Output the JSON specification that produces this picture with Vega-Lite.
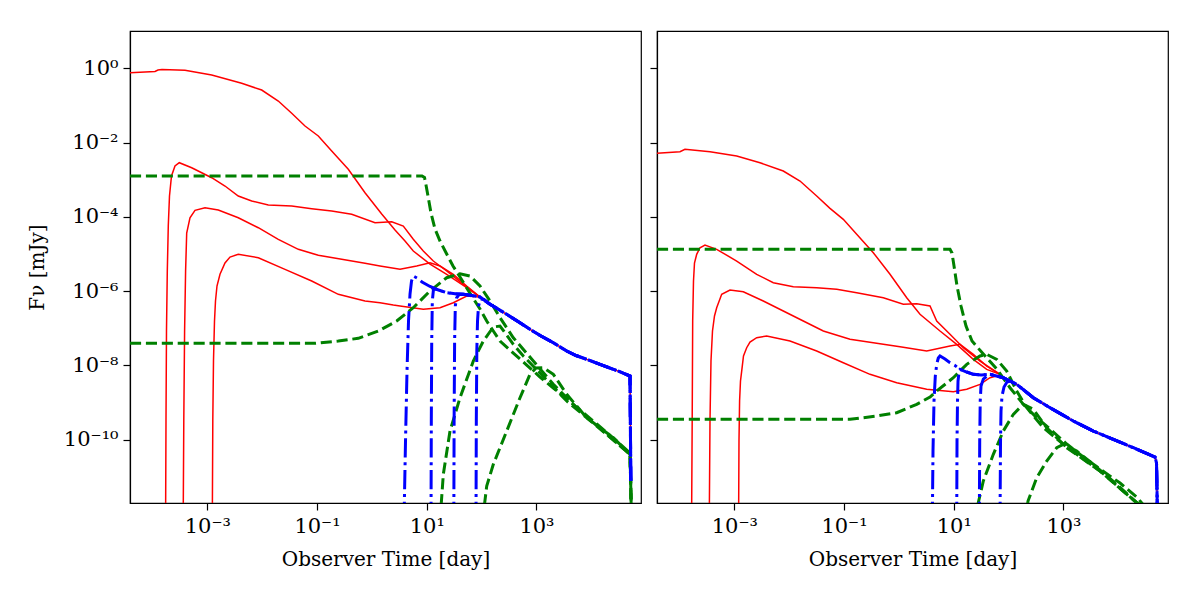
{
"$schema": "https://vega.github.io/schema/vega-lite/v6.json",
"background": "white",
"padding": {"left": 26, "top": 30, "right": 0, "bottom": 0},
"spacing": 6,
"config": {
  "font": "DejaVu Serif",
  "view": {"stroke": "#000", "strokeWidth": 1.2},
  "axis": {"grid": false, "domainColor": "#000", "domainWidth": 1.2, "tickColor": "#000", "tickWidth": 1.2, "tickSize": 7,
           "labelFont": "DejaVu Serif", "titleFont": "DejaVu Serif", "labelFontSize": 21, "titleFontSize": 20,
           "labelColor": "#000", "titleColor": "#000", "titleFontWeight": "normal", "labelFlush": false, "labelOverlap": false, "labelBound": false, "labelPadding": 5},
  "axisX": {"titlePadding": 13},
  "axisY": {"titlePadding": 16}
},
"datasets": {
"L": [
{"c":"r","s":1,"t":3.9e-5,"f":0.761},{"c":"r","s":1,"t":1.114e-4,"f":0.82},{"c":"r","s":1,"t":1.262e-4,"f":0.9},{"c":"r","s":1,"t":1.493e-4,"f":0.928},{"c":"r","s":1,"t":3.923e-4,"f":0.884},{"c":"r","s":1,"t":1.203e-3,"f":0.66},{"c":"r","s":1,"t":4.237e-3,"f":0.3946},{"c":"r","s":1,"t":9.81e-3,"f":0.2604},{"c":"r","s":1,"t":0.01969,"f":0.1317},{"c":"r","s":1,"t":0.03457,"f":0.06143},{"c":"r","s":1,"t":0.0604,"f":0.02795},{"c":"r","s":1,"t":0.1056,"f":0.01504},{"c":"r","s":1,"t":0.1853,"f":5.935e-3},{"c":"r","s":1,"t":0.3719,"f":1.909e-3},{"c":"r","s":1,"t":0.7497,"f":4.472e-4},{"c":"r","s":1,"t":1.511,"f":1.194e-4},{"c":"r","s":1,"t":2.641,"f":4.428e-5},{"c":"r","s":1,"t":4.018,"f":2.239e-5},{"c":"r","s":1,"t":5.69,"f":1.204e-5},{"c":"r","s":1,"t":11.48,"f":5.38e-6},{"c":"r","s":1,"t":23.13,"f":2.841e-6},{"c":"r","s":1,"t":53.56,"f":1.238e-6},{"c":"r","s":1,"t":93.6,"f":6.955e-7},
{"c":"r","s":2,"t":1.737e-4,"f":6.47e-13},{"c":"r","s":2,"t":1.767e-4,"f":3.19e-10},{"c":"r","s":2,"t":1.804e-4,"f":8.45e-8},{"c":"r","s":2,"t":1.866e-4,"f":3.485e-6},{"c":"r","s":2,"t":1.945e-4,"f":5.674e-5},{"c":"r","s":2,"t":2.046e-4,"f":3.644e-4},{"c":"r","s":2,"t":2.225e-4,"f":1.26e-3},{"c":"r","s":2,"t":2.577e-4,"f":2.341e-3},{"c":"r","s":2,"t":3.087e-4,"f":2.872e-3},{"c":"r","s":2,"t":5.195e-4,"f":2.106e-3},{"c":"r","s":2,"t":1.203e-3,"f":1.133e-3},{"c":"r","s":2,"t":2.102e-3,"f":6.775e-4},{"c":"r","s":2,"t":3.673e-3,"f":3.644e-4},{"c":"r","s":2,"t":6.447e-3,"f":2.674e-4},{"c":"r","s":2,"t":0.01294,"f":2.087e-4},{"c":"r","s":2,"t":0.03457,"f":1.961e-4},{"c":"r","s":2,"t":0.08002,"f":1.658e-4},{"c":"r","s":2,"t":0.1853,"f":1.438e-4},{"c":"r","s":2,"t":0.4289,"f":1.172e-4},{"c":"r","s":2,"t":1.141,"f":6.965e-5},{"c":"r","s":2,"t":2.299,"f":7.41e-5},{"c":"r","s":2,"t":3.742,"f":5.674e-5},{"c":"r","s":2,"t":5.69,"f":2.488e-5},{"c":"r","s":2,"t":8.66,"f":1.204e-5},{"c":"r","s":2,"t":13.18,"f":6.48e-6},{"c":"r","s":2,"t":23.13,"f":3.485e-6},{"c":"r","s":2,"t":46.45,"f":1.529e-6},{"c":"r","s":2,"t":93.6,"f":6.955e-7},
{"c":"r","s":3,"t":3.637e-4,"f":6.47e-13},{"c":"r","s":3,"t":3.729e-4,"f":3.19e-10},{"c":"r","s":3,"t":3.857e-4,"f":8.45e-8},{"c":"r","s":3,"t":4.022e-4,"f":3.485e-6},{"c":"r","s":3,"t":4.212e-4,"f":3.676e-5},{"c":"r","s":3,"t":4.836e-4,"f":9.49e-5},{"c":"r","s":3,"t":5.967e-4,"f":1.502e-4},{"c":"r","s":3,"t":9.08e-4,"f":1.765e-4},{"c":"r","s":3,"t":1.587e-3,"f":1.53e-4},{"c":"r","s":3,"t":3.673e-3,"f":9.49e-5},{"c":"r","s":3,"t":8.51e-3,"f":5.108e-5},{"c":"r","s":3,"t":0.01969,"f":2.488e-5},{"c":"r","s":3,"t":0.04559,"f":1.338e-5},{"c":"r","s":3,"t":0.1056,"f":9.23e-6},{"c":"r","s":3,"t":0.2819,"f":7.2e-6},{"c":"r","s":3,"t":0.7497,"f":5.62e-6},{"c":"r","s":3,"t":1.407,"f":4.751e-6},{"c":"r","s":3,"t":3.258,"f":3.873e-6},{"c":"r","s":3,"t":6.568,"f":4.751e-6},{"c":"r","s":3,"t":11.48,"f":5.832e-6},{"c":"r","s":3,"t":17.47,"f":4.751e-6},{"c":"r","s":3,"t":30.52,"f":2.841e-6},{"c":"r","s":3,"t":53.56,"f":1.375e-6},{"c":"r","s":3,"t":93.6,"f":6.955e-7},
{"c":"r","s":4,"t":1.234e-3,"f":6.47e-13},{"c":"r","s":4,"t":1.26e-3,"f":3.19e-10},{"c":"r","s":4,"t":1.297e-3,"f":1.315e-8},{"c":"r","s":4,"t":1.353e-3,"f":1.57e-7},{"c":"r","s":4,"t":1.411e-3,"f":5.427e-7},{"c":"r","s":4,"t":1.502e-3,"f":1.375e-6},{"c":"r","s":4,"t":1.704e-3,"f":2.841e-6},{"c":"r","s":4,"t":2.102e-3,"f":5.724e-6},{"c":"r","s":4,"t":2.594e-3,"f":8.3e-6},{"c":"r","s":4,"t":3.673e-3,"f":9.82e-6},{"c":"r","s":4,"t":8.51e-3,"f":7.95e-6},{"c":"r","s":4,"t":0.02609,"f":3.873e-6},{"c":"r","s":4,"t":0.08002,"f":1.875e-6},{"c":"r","s":4,"t":0.2444,"f":8.22e-7},{"c":"r","s":4,"t":0.7497,"f":5.427e-7},{"c":"r","s":4,"t":1.407,"f":4.884e-7},{"c":"r","s":4,"t":2.459,"f":4.234e-7},{"c":"r","s":4,"t":3.258,"f":3.98e-7},{"c":"r","s":4,"t":8.66,"f":3.243e-7},{"c":"r","s":4,"t":17.47,"f":3.582e-7},{"c":"r","s":4,"t":30.52,"f":4.884e-7},{"c":"r","s":4,"t":53.56,"f":7.4e-7},{"c":"r","s":4,"t":93.6,"f":6.955e-7},
{"c":"r","s":5,"t":93.6,"f":6.955e-7},{"c":"r","s":5,"t":142.4,"f":4.42e-7},{"c":"r","s":5,"t":199.3,"f":3.304e-7},{"c":"r","s":5,"t":287.1,"f":2.379e-7},{"c":"r","s":5,"t":461.3,"f":1.523e-7},{"c":"r","s":5,"t":763.4,"f":9.39e-8},{"c":"r","s":5,"t":1212,"f":6.197e-8},{"c":"r","s":5,"t":2031,"f":4.089e-8},{"c":"r","s":5,"t":3563,"f":2.445e-8},{"c":"r","s":5,"t":5264,"f":1.85e-8},{"c":"r","s":5,"t":8253,"f":1.461e-8},{"c":"r","s":5,"t":14415,"f":1.072e-8},{"c":"r","s":5,"t":25196,"f":7.86e-9},{"c":"r","s":5,"t":36308,"f":6.45e-9},{"c":"r","s":5,"t":50790,"f":5.19e-9},{"c":"r","s":5,"t":53500,"f":6.47e-13},
{"c":"g","s":1,"t":3.9e-5,"f":1.26e-3},{"c":"g","s":1,"t":8.204,"f":1.26e-3},{"c":"g","s":1,"t":9.11,"f":1.148e-3},{"c":"g","s":1,"t":9.7,"f":7.21e-4},{"c":"g","s":1,"t":10.55,"f":3.644e-4},{"c":"g","s":1,"t":11.97,"f":1.27e-4},{"c":"g","s":1,"t":14.16,"f":4.71e-5},{"c":"g","s":1,"t":17.47,"f":2.239e-5},{"c":"g","s":1,"t":23.13,"f":1.0e-5},{"c":"g","s":1,"t":30.14,"f":4.751e-6},{"c":"g","s":1,"t":40.44,"f":2.403e-6},{"c":"g","s":1,"t":53.56,"f":1.215e-6},{"c":"g","s":1,"t":69.78,"f":6.535e-7},{"c":"g","s":1,"t":93.6,"f":3.304e-7},{"c":"g","s":1,"t":124,"f":1.57e-7},{"c":"g","s":1,"t":163.6,"f":8.45e-8},{"c":"g","s":1,"t":216.7,"f":4.545e-8},{"c":"g","s":1,"t":378.7,"f":2.16e-8},{"c":"g","s":1,"t":664.8,"f":1.026e-8},{"c":"g","s":1,"t":1162,"f":4.88e-9},{"c":"g","s":1,"t":2031,"f":2.47e-9},{"c":"g","s":1,"t":3563,"f":1.247e-9},{"c":"g","s":1,"t":6228,"f":6.3e-10},{"c":"g","s":1,"t":12556,"f":2.65e-10},{"c":"g","s":1,"t":25196,"f":1.111e-10},{"c":"g","s":1,"t":50790,"f":4.38e-11},{"c":"g","s":1,"t":54100,"f":6.47e-13},
{"c":"g","s":2,"t":3.9e-5,"f":3.94e-8},{"c":"g","s":2,"t":0.09191,"f":3.94e-8},{"c":"g","s":2,"t":0.2444,"f":4.545e-8},{"c":"g","s":2,"t":0.5658,"f":5.374e-8},{"c":"g","s":2,"t":1.31,"f":8.45e-8},{"c":"g","s":2,"t":2.837,"f":1.57e-7},{"c":"g","s":2,"t":5.69,"f":3.582e-7},{"c":"g","s":2,"t":11.48,"f":1.009e-6},{"c":"g","s":2,"t":23.13,"f":2.3e-6},{"c":"g","s":2,"t":40.44,"f":2.948e-6},{"c":"g","s":2,"t":61.52,"f":2.556e-6},{"c":"g","s":2,"t":93.6,"f":1.375e-6},{"c":"g","s":2,"t":142.4,"f":5.427e-7},{"c":"g","s":2,"t":216.7,"f":1.927e-7},{"c":"g","s":2,"t":378.7,"f":5.578e-8},{"c":"g","s":2,"t":877,"f":1.315e-8},{"c":"g","s":2,"t":2031,"f":3.1e-9},{"c":"g","s":2,"t":6228,"f":5.93e-10},{"c":"g","s":2,"t":19103,"f":1.398e-10},{"c":"g","s":2,"t":50790,"f":4.05e-11},{"c":"g","s":2,"t":54100,"f":6.47e-13},
{"c":"g","s":3,"t":17.47,"f":6.47e-13},{"c":"g","s":3,"t":20.06,"f":1.171e-11},{"c":"g","s":3,"t":26.57,"f":1.716e-10},{"c":"g","s":3,"t":40.44,"f":1.352e-9},{"c":"g","s":3,"t":70.67,"f":1.315e-8},{"c":"g","s":3,"t":107.5,"f":4.545e-8},{"c":"g","s":3,"t":163.6,"f":1.083e-7},{"c":"g","s":3,"t":216.7,"f":1.151e-7},{"c":"g","s":3,"t":287.1,"f":6.59e-8},{"c":"g","s":3,"t":378.7,"f":3.704e-8},{"c":"g","s":3,"t":576.4,"f":1.794e-8},{"c":"g","s":3,"t":1162,"f":6.25e-9},{"c":"g","s":3,"t":3563,"f":1.102e-9},{"c":"g","s":3,"t":12556,"f":2.338e-10},{"c":"g","s":3,"t":50790,"f":4.12e-11},{"c":"g","s":3,"t":54100,"f":6.47e-13},
{"c":"g","s":4,"t":103.9,"f":6.47e-13},{"c":"g","s":4,"t":124,"f":5.67e-12},{"c":"g","s":4,"t":163.6,"f":2.177e-11},{"c":"g","s":4,"t":287.1,"f":1.716e-10},{"c":"g","s":4,"t":501.8,"f":1.352e-9},{"c":"g","s":4,"t":763.4,"f":5.77e-9},{"c":"g","s":4,"t":982,"f":8.52e-9},{"c":"g","s":4,"t":1335,"f":8.69e-9},{"c":"g","s":4,"t":2031,"f":5.77e-9},{"c":"g","s":4,"t":3563,"f":1.669e-9},{"c":"g","s":4,"t":8253,"f":3.91e-10},{"c":"g","s":4,"t":25196,"f":1.132e-10},{"c":"g","s":4,"t":50790,"f":4.05e-11},{"c":"g","s":4,"t":54100,"f":6.47e-13},
{"c":"b","s":1,"t":3.853,"f":6.47e-13},{"c":"b","s":1,"t":4.104,"f":9.23e-11},{"c":"b","s":1,"t":4.37,"f":7.07e-9},{"c":"b","s":1,"t":4.655,"f":1.57e-7},{"c":"b","s":1,"t":4.958,"f":8.37e-7},{"c":"b","s":1,"t":5.279,"f":1.875e-6},{"c":"b","s":1,"t":5.69,"f":2.556e-6},{"c":"b","s":1,"t":6.65,"f":2.258e-6},{"c":"b","s":1,"t":8.204,"f":1.762e-6},{"c":"b","s":1,"t":11.48,"f":1.334e-6},
{"c":"b","s":1,"t":17.47,"f":1.041e-6},{"c":"b","s":1,"t":23.13,"f":9.08e-7},{"c":"b","s":1,"t":32.77,"f":8.53e-7},{"c":"b","s":1,"t":46.45,"f":8.22e-7},{"c":"b","s":1,"t":66.91,"f":7.63e-7},{"c":"b","s":1,"t":93.6,"f":6.955e-7},{"c":"b","s":1,"t":142.4,"f":4.42e-7},{"c":"b","s":1,"t":199.3,"f":3.304e-7},{"c":"b","s":1,"t":287.1,"f":2.379e-7},{"c":"b","s":1,"t":461.3,"f":1.523e-7},{"c":"b","s":1,"t":763.4,"f":9.39e-8},{"c":"b","s":1,"t":1212,"f":6.197e-8},{"c":"b","s":1,"t":2031,"f":4.089e-8},{"c":"b","s":1,"t":3563,"f":2.445e-8},{"c":"b","s":1,"t":5264,"f":1.85e-8},{"c":"b","s":1,"t":8253,"f":1.461e-8},{"c":"b","s":1,"t":14415,"f":1.072e-8},{"c":"b","s":1,"t":25196,"f":7.86e-9},{"c":"b","s":1,"t":36308,"f":6.45e-9},{"c":"b","s":1,"t":50790,"f":5.19e-9},{"c":"b","s":1,"t":52500,"f":7.73e-12},
{"c":"b","s":2,"t":11.97,"f":6.47e-13},{"c":"b","s":2,"t":12.12,"f":3.19e-10},{"c":"b","s":2,"t":12.33,"f":4.545e-8},{"c":"b","s":2,"t":12.64,"f":5.427e-7},{"c":"b","s":2,"t":13.29,"f":1.142e-6},{"c":"b","s":2,"t":15.4,"f":1.107e-6},
{"c":"b","s":2,"t":17.47,"f":1.041e-6},{"c":"b","s":2,"t":23.13,"f":9.08e-7},{"c":"b","s":2,"t":32.77,"f":8.53e-7},{"c":"b","s":2,"t":46.45,"f":8.22e-7},{"c":"b","s":2,"t":66.91,"f":7.63e-7},{"c":"b","s":2,"t":93.6,"f":6.955e-7},{"c":"b","s":2,"t":142.4,"f":4.42e-7},{"c":"b","s":2,"t":199.3,"f":3.304e-7},{"c":"b","s":2,"t":287.1,"f":2.379e-7},{"c":"b","s":2,"t":461.3,"f":1.523e-7},{"c":"b","s":2,"t":763.4,"f":9.39e-8},{"c":"b","s":2,"t":1212,"f":6.197e-8},{"c":"b","s":2,"t":2031,"f":4.089e-8},{"c":"b","s":2,"t":3563,"f":2.445e-8},{"c":"b","s":2,"t":5264,"f":1.85e-8},{"c":"b","s":2,"t":8253,"f":1.461e-8},{"c":"b","s":2,"t":14415,"f":1.072e-8},{"c":"b","s":2,"t":25196,"f":7.86e-9},{"c":"b","s":2,"t":36308,"f":6.45e-9},{"c":"b","s":2,"t":50790,"f":5.19e-9},{"c":"b","s":2,"t":52500,"f":7.73e-12},
{"c":"b","s":3,"t":31.17,"f":6.47e-13},{"c":"b","s":3,"t":31.56,"f":3.19e-10},{"c":"b","s":3,"t":32.23,"f":4.545e-8},{"c":"b","s":3,"t":33.19,"f":3.98e-7},{"c":"b","s":3,"t":34.9,"f":6.535e-7},{"c":"b","s":3,"t":38.77,"f":8.12e-7},
{"c":"b","s":3,"t":46.45,"f":8.22e-7},{"c":"b","s":3,"t":66.91,"f":7.63e-7},{"c":"b","s":3,"t":93.6,"f":6.955e-7},{"c":"b","s":3,"t":142.4,"f":4.42e-7},{"c":"b","s":3,"t":199.3,"f":3.304e-7},{"c":"b","s":3,"t":287.1,"f":2.379e-7},{"c":"b","s":3,"t":461.3,"f":1.523e-7},{"c":"b","s":3,"t":763.4,"f":9.39e-8},{"c":"b","s":3,"t":1212,"f":6.197e-8},{"c":"b","s":3,"t":2031,"f":4.089e-8},{"c":"b","s":3,"t":3563,"f":2.445e-8},{"c":"b","s":3,"t":5264,"f":1.85e-8},{"c":"b","s":3,"t":8253,"f":1.461e-8},{"c":"b","s":3,"t":14415,"f":1.072e-8},{"c":"b","s":3,"t":25196,"f":7.86e-9},{"c":"b","s":3,"t":36308,"f":6.45e-9},{"c":"b","s":3,"t":50790,"f":5.19e-9},{"c":"b","s":3,"t":52500,"f":7.73e-12},
{"c":"b","s":4,"t":79.13,"f":6.47e-13},{"c":"b","s":4,"t":80.14,"f":3.19e-10},{"c":"b","s":4,"t":81.85,"f":2.445e-8},{"c":"b","s":4,"t":84.28,"f":1.57e-7},{"c":"b","s":4,"t":87.9,"f":3.98e-7},{"c":"b","s":4,"t":95.6,"f":6.14e-7},{"c":"b","s":4,"t":110.7,"f":5.955e-7},
{"c":"b","s":4,"t":142.4,"f":4.42e-7},{"c":"b","s":4,"t":199.3,"f":3.304e-7},{"c":"b","s":4,"t":287.1,"f":2.379e-7},{"c":"b","s":4,"t":461.3,"f":1.523e-7},{"c":"b","s":4,"t":763.4,"f":9.39e-8},{"c":"b","s":4,"t":1212,"f":6.197e-8},{"c":"b","s":4,"t":2031,"f":4.089e-8},{"c":"b","s":4,"t":3563,"f":2.445e-8},{"c":"b","s":4,"t":5264,"f":1.85e-8},{"c":"b","s":4,"t":8253,"f":1.461e-8},{"c":"b","s":4,"t":14415,"f":1.072e-8},{"c":"b","s":4,"t":25196,"f":7.86e-9},{"c":"b","s":4,"t":36308,"f":6.45e-9},{"c":"b","s":4,"t":50790,"f":5.19e-9},{"c":"b","s":4,"t":52500,"f":7.73e-12}
],
"R": [
{"c":"r","s":1,"t":3.9e-5,"f":5.145e-3},{"c":"r","s":1,"t":1.023e-4,"f":5.682e-3},{"c":"r","s":1,"t":1.262e-4,"f":6.593e-3},{"c":"r","s":1,"t":3.606e-4,"f":5.682e-3},{"c":"r","s":1,"t":1.106e-3,"f":4.352e-3},{"c":"r","s":1,"t":2.94e-3,"f":2.872e-3},{"c":"r","s":1,"t":7.82e-3,"f":1.717e-3},{"c":"r","s":1,"t":0.01577,"f":9.24e-4},{"c":"r","s":1,"t":0.03178,"f":3.644e-4},{"c":"r","s":1,"t":0.05554,"f":1.7e-4},{"c":"r","s":1,"t":0.09707,"f":8.6e-5},{"c":"r","s":1,"t":0.1703,"f":3.392e-5},{"c":"r","s":1,"t":0.342,"f":1.084e-5},{"c":"r","s":1,"t":0.6893,"f":2.841e-6},{"c":"r","s":1,"t":1.39,"f":6.658e-7},{"c":"r","s":1,"t":2.428,"f":2.379e-7},{"c":"r","s":1,"t":5.622,"f":8.45e-8},{"c":"r","s":1,"t":11.33,"f":3.704e-8},{"c":"r","s":1,"t":22.75,"f":1.461e-8},{"c":"r","s":1,"t":39.94,"f":7.86e-9},{"c":"r","s":1,"t":69.78,"f":5.77e-9},{"c":"r","s":1,"t":80.14,"f":4.672e-9},
{"c":"r","s":2,"t":1.665e-4,"f":6.47e-13},{"c":"r","s":2,"t":1.708e-4,"f":3.19e-10},{"c":"r","s":2,"t":1.744e-4,"f":1.57e-7},{"c":"r","s":2,"t":1.804e-4,"f":1.875e-6},{"c":"r","s":2,"t":1.881e-4,"f":5.724e-6},{"c":"r","s":2,"t":2.063e-4,"f":9.82e-6},{"c":"r","s":2,"t":2.369e-4,"f":1.478e-5},{"c":"r","s":2,"t":2.922e-4,"f":1.748e-5},{"c":"r","s":2,"t":4.776e-4,"f":1.338e-5},{"c":"r","s":2,"t":1.106e-3,"f":6.48e-6},{"c":"r","s":2,"t":2.561e-3,"f":2.841e-6},{"c":"r","s":2,"t":5.14e-3,"f":1.688e-6},{"c":"r","s":2,"t":0.0119,"f":1.317e-6},{"c":"r","s":2,"t":0.03178,"f":1.238e-6},{"c":"r","s":2,"t":0.07358,"f":1.121e-6},{"c":"r","s":2,"t":0.1703,"f":9.08e-7},{"c":"r","s":2,"t":0.5203,"f":6.658e-7},{"c":"r","s":2,"t":1.205,"f":4.42e-7},{"c":"r","s":2,"t":2.114,"f":4.589e-7},{"c":"r","s":2,"t":3.695,"f":3.98e-7},{"c":"r","s":2,"t":4.896,"f":1.57e-7},{"c":"r","s":2,"t":8.55,"f":6.886e-8},{"c":"r","s":2,"t":14.95,"f":3.0e-8},{"c":"r","s":2,"t":30.14,"f":1.315e-8},{"c":"r","s":2,"t":69.78,"f":5.77e-9},{"c":"r","s":2,"t":80.14,"f":4.672e-9},
{"c":"r","s":3,"t":3.5e-4,"f":6.47e-13},{"c":"r","s":3,"t":3.606e-4,"f":3.19e-10},{"c":"r","s":3,"t":3.76e-4,"f":1.315e-8},{"c":"r","s":3,"t":4.005e-4,"f":8.45e-8},{"c":"r","s":3,"t":4.355e-4,"f":2.142e-7},{"c":"r","s":3,"t":4.776e-4,"f":3.582e-7},{"c":"r","s":3,"t":5.892e-4,"f":8.22e-7},{"c":"r","s":3,"t":8.347e-4,"f":1.073e-6},{"c":"r","s":3,"t":1.459e-3,"f":9.66e-7},{"c":"r","s":3,"t":3.378e-3,"f":5.427e-7},{"c":"r","s":3,"t":7.82e-3,"f":2.92e-7},{"c":"r","s":3,"t":0.01811,"f":1.57e-7},{"c":"r","s":3,"t":0.04193,"f":8.45e-8},{"c":"r","s":3,"t":0.1286,"f":5.05e-8},{"c":"r","s":3,"t":0.5203,"f":3.704e-8},{"c":"r","s":3,"t":1.049,"f":3.19e-8},{"c":"r","s":3,"t":3.218,"f":2.445e-8},{"c":"r","s":3,"t":8.55,"f":3.334e-8},{"c":"r","s":3,"t":13.02,"f":3.704e-8},{"c":"r","s":3,"t":22.75,"f":1.993e-8},{"c":"r","s":3,"t":39.94,"f":9.65e-9},{"c":"r","s":3,"t":69.78,"f":5.77e-9},{"c":"r","s":3,"t":80.14,"f":4.672e-9},
{"c":"r","s":4,"t":1.198e-3,"f":6.47e-13},{"c":"r","s":4,"t":1.218e-3,"f":9.23e-11},{"c":"r","s":4,"t":1.249e-3,"f":1.102e-9},{"c":"r","s":4,"t":1.297e-3,"f":3.81e-9},{"c":"r","s":4,"t":1.364e-3,"f":7.07e-9},{"c":"r","s":4,"t":1.471e-3,"f":1.794e-8},{"c":"r","s":4,"t":1.682e-3,"f":3.0e-8},{"c":"r","s":4,"t":1.933e-3,"f":4.27e-8},{"c":"r","s":4,"t":2.561e-3,"f":5.578e-8},{"c":"r","s":4,"t":3.897e-3,"f":6.197e-8},{"c":"r","s":4,"t":0.01036,"f":4.545e-8},{"c":"r","s":4,"t":0.03178,"f":2.445e-8},{"c":"r","s":4,"t":0.09707,"f":1.184e-8},{"c":"r","s":4,"t":0.2978,"f":5.77e-9},{"c":"r","s":4,"t":0.9133,"f":3.425e-9},{"c":"r","s":4,"t":3.218,"f":2.276e-9},{"c":"r","s":4,"t":9.83,"f":1.961e-9},{"c":"r","s":4,"t":17.25,"f":2.276e-9},{"c":"r","s":4,"t":30.14,"f":3.1e-9},{"c":"r","s":4,"t":45.86,"f":4.672e-9},{"c":"r","s":4,"t":69.78,"f":5.52e-9},{"c":"r","s":4,"t":80.14,"f":4.672e-9},
{"c":"r","s":5,"t":80.14,"f":4.672e-9},{"c":"r","s":5,"t":140.7,"f":3.1e-9},{"c":"r","s":5,"t":282.4,"f":1.352e-9},{"c":"r","s":5,"t":569.1,"f":7.27e-10},{"c":"r","s":5,"t":1514,"f":3.19e-10},{"c":"r","s":5,"t":3504,"f":1.716e-10},{"c":"r","s":5,"t":8115,"f":1.025e-10},{"c":"r","s":5,"t":18785,"f":6.09e-11},{"c":"r","s":5,"t":46698,"f":3.42e-11},{"c":"r","s":5,"t":49726,"f":2.359e-11},{"c":"r","s":5,"t":51870,"f":6.47e-13},
{"c":"g","s":1,"t":3.9e-5,"f":1.338e-5},{"c":"g","s":1,"t":8.55,"f":1.338e-5},{"c":"g","s":1,"t":9.3,"f":1.064e-5},{"c":"g","s":1,"t":10.12,"f":4.751e-6},{"c":"g","s":1,"t":11.48,"f":1.375e-6},{"c":"g","s":1,"t":13.57,"f":3.98e-7},{"c":"g","s":1,"t":16.75,"f":1.151e-7},{"c":"g","s":1,"t":21.54,"f":4.545e-8},{"c":"g","s":1,"t":34.62,"f":2.03e-8},{"c":"g","s":1,"t":60.76,"f":8.01e-9},{"c":"g","s":1,"t":106.2,"f":2.513e-9},{"c":"g","s":1,"t":185.6,"f":8.98e-10},{"c":"g","s":1,"t":325.7,"f":3.91e-10},{"c":"g","s":1,"t":569.1,"f":1.942e-10},{"c":"g","s":1,"t":1147,"f":7.66e-11},{"c":"g","s":1,"t":2303,"f":3.42e-11},{"c":"g","s":1,"t":4642,"f":1.626e-11},{"c":"g","s":1,"t":10747,"f":6.83e-12},{"c":"g","s":1,"t":21666,"f":2.865e-12},{"c":"g","s":1,"t":32010,"f":1.449e-12},
{"c":"g","s":2,"t":3.9e-5,"f":3.54e-10},{"c":"g","s":2,"t":0.1286,"f":3.54e-10},{"c":"g","s":2,"t":0.3945,"f":4.35e-10},{"c":"g","s":2,"t":0.9133,"f":5.33e-10},{"c":"g","s":2,"t":2.114,"f":8.98e-10},{"c":"g","s":2,"t":3.695,"f":1.412e-9},{"c":"g","s":2,"t":4.896,"f":2.048e-9},{"c":"g","s":2,"t":9.83,"f":4.672e-9},{"c":"g","s":2,"t":17.25,"f":1.072e-8},{"c":"g","s":2,"t":30.14,"f":1.794e-8},{"c":"g","s":2,"t":39.94,"f":1.993e-8},{"c":"g","s":2,"t":60.76,"f":1.461e-8},{"c":"g","s":2,"t":92.45,"f":7.07e-9},{"c":"g","s":2,"t":140.7,"f":2.048e-9},{"c":"g","s":2,"t":214.1,"f":7.27e-10},{"c":"g","s":2,"t":429.7,"f":2.104e-10},{"c":"g","s":2,"t":1147,"f":6.36e-11},{"c":"g","s":2,"t":4642,"f":1.436e-11},{"c":"g","s":2,"t":21666,"f":2.01e-12},{"c":"g","s":2,"t":32010,"f":1.449e-12},
{"c":"g","s":3,"t":23.43,"f":6.47e-13},{"c":"g","s":3,"t":34.62,"f":7.73e-12},{"c":"g","s":3,"t":52.67,"f":4.05e-11},{"c":"g","s":3,"t":80.14,"f":1.716e-10},{"c":"g","s":3,"t":122,"f":4.83e-10},{"c":"g","s":3,"t":185.6,"f":8.98e-10},{"c":"g","s":3,"t":282.4,"f":6.59e-10},{"c":"g","s":3,"t":495.7,"f":2.104e-10},{"c":"g","s":3,"t":1147,"f":6.09e-11},{"c":"g","s":3,"t":4642,"f":1.436e-11},{"c":"g","s":3,"t":21666,"f":2.01e-12},{"c":"g","s":3,"t":32010,"f":1.449e-12},
{"c":"g","s":4,"t":199.3,"f":6.47e-13},{"c":"g","s":4,"t":226,"f":2.236e-12},{"c":"g","s":4,"t":325.7,"f":9.48e-12},{"c":"g","s":4,"t":495.7,"f":2.67e-11},{"c":"g","s":4,"t":754,"f":6.09e-11},{"c":"g","s":4,"t":994.7,"f":7.52e-11},{"c":"g","s":4,"t":1746,"f":4.96e-11},{"c":"g","s":4,"t":3504,"f":2.177e-11},{"c":"g","s":4,"t":9359,"f":6.3e-12},{"c":"g","s":4,"t":21666,"f":2.01e-12},{"c":"g","s":4,"t":32010,"f":1.449e-12},
{"c":"b","s":1,"t":4.07,"f":6.47e-13},{"c":"b","s":1,"t":4.19,"f":4.96e-11},{"c":"b","s":1,"t":4.37,"f":1.102e-9},{"c":"b","s":1,"t":4.615,"f":5.19e-9},{"c":"b","s":1,"t":4.896,"f":1.072e-8},{"c":"b","s":1,"t":5.234,"f":1.584e-8},{"c":"b","s":1,"t":5.622,"f":1.794e-8},{"c":"b","s":1,"t":6.934,"f":1.489e-8},{"c":"b","s":1,"t":8.55,"f":1.184e-8},{"c":"b","s":1,"t":10.55,"f":9.95e-9},
{"c":"b","s":1,"t":13.02,"f":7.86e-9},{"c":"b","s":1,"t":17.25,"f":6.65e-9},{"c":"b","s":1,"t":22.75,"f":5.77e-9},{"c":"b","s":1,"t":31.43,"f":5.52e-9},{"c":"b","s":1,"t":45.86,"f":5.77e-9},{"c":"b","s":1,"t":80.14,"f":4.672e-9},{"c":"b","s":1,"t":140.7,"f":3.1e-9},{"c":"b","s":1,"t":282.4,"f":1.352e-9},{"c":"b","s":1,"t":569.1,"f":7.27e-10},{"c":"b","s":1,"t":1514,"f":3.19e-10},{"c":"b","s":1,"t":3504,"f":1.716e-10},{"c":"b","s":1,"t":8115,"f":1.025e-10},{"c":"b","s":1,"t":18785,"f":6.09e-11},{"c":"b","s":1,"t":46698,"f":3.42e-11},{"c":"b","s":1,"t":49726,"f":2.359e-11},{"c":"b","s":1,"t":51870,"f":6.47e-13},
{"c":"b","s":2,"t":11.33,"f":6.47e-13},{"c":"b","s":2,"t":11.48,"f":9.23e-11},{"c":"b","s":2,"t":11.72,"f":1.102e-9},{"c":"b","s":2,"t":11.97,"f":3.81e-9},{"c":"b","s":2,"t":12.64,"f":7.53e-9},
{"c":"b","s":2,"t":13.02,"f":7.86e-9},{"c":"b","s":2,"t":17.25,"f":6.65e-9},{"c":"b","s":2,"t":22.75,"f":5.77e-9},{"c":"b","s":2,"t":31.43,"f":5.52e-9},{"c":"b","s":2,"t":45.86,"f":5.77e-9},{"c":"b","s":2,"t":80.14,"f":4.672e-9},{"c":"b","s":2,"t":140.7,"f":3.1e-9},{"c":"b","s":2,"t":282.4,"f":1.352e-9},{"c":"b","s":2,"t":569.1,"f":7.27e-10},{"c":"b","s":2,"t":1514,"f":3.19e-10},{"c":"b","s":2,"t":3504,"f":1.716e-10},{"c":"b","s":2,"t":8115,"f":1.025e-10},{"c":"b","s":2,"t":18785,"f":6.09e-11},{"c":"b","s":2,"t":46698,"f":3.42e-11},{"c":"b","s":2,"t":49726,"f":2.359e-11},{"c":"b","s":2,"t":51870,"f":6.47e-13},
{"c":"b","s":3,"t":29.27,"f":6.47e-13},{"c":"b","s":3,"t":29.76,"f":9.23e-11},{"c":"b","s":3,"t":30.4,"f":1.102e-9},{"c":"b","s":3,"t":31.43,"f":2.792e-9},{"c":"b","s":3,"t":34.62,"f":4.31e-9},{"c":"b","s":3,"t":40.44,"f":5.19e-9},{"c":"b","s":3,"t":45.86,"f":5.77e-9},
{"c":"b","s":3,"t":80.14,"f":4.672e-9},{"c":"b","s":3,"t":140.7,"f":3.1e-9},{"c":"b","s":3,"t":282.4,"f":1.352e-9},{"c":"b","s":3,"t":569.1,"f":7.27e-10},{"c":"b","s":3,"t":1514,"f":3.19e-10},{"c":"b","s":3,"t":3504,"f":1.716e-10},{"c":"b","s":3,"t":8115,"f":1.025e-10},{"c":"b","s":3,"t":18785,"f":6.09e-11},{"c":"b","s":3,"t":46698,"f":3.42e-11},{"c":"b","s":3,"t":49726,"f":2.359e-11},{"c":"b","s":3,"t":51870,"f":6.47e-13},
{"c":"b","s":4,"t":69.78,"f":6.47e-13},{"c":"b","s":4,"t":71.26,"f":9.23e-11},{"c":"b","s":4,"t":72.77,"f":5.93e-10},{"c":"b","s":4,"t":75.9,"f":1.502e-9},{"c":"b","s":4,"t":82.53,"f":2.624e-9},{"c":"b","s":4,"t":93.6,"f":3.578e-9},{"c":"b","s":4,"t":106.2,"f":3.81e-9},{"c":"b","s":4,"t":140.7,"f":3.1e-9},
{"c":"b","s":4,"t":282.4,"f":1.352e-9},{"c":"b","s":4,"t":569.1,"f":7.27e-10},{"c":"b","s":4,"t":1514,"f":3.19e-10},{"c":"b","s":4,"t":3504,"f":1.716e-10},{"c":"b","s":4,"t":8115,"f":1.025e-10},{"c":"b","s":4,"t":18785,"f":6.09e-11},{"c":"b","s":4,"t":46698,"f":3.42e-11},{"c":"b","s":4,"t":49726,"f":2.359e-11},{"c":"b","s":4,"t":51870,"f":6.47e-13}
]
},
"hconcat": [
{
  "width": 511, "height": 472,
  "data": {"name": "L"},
  "encoding": {
    "x": {"field": "t", "type": "quantitative", "scale": {"type": "log", "domain": [3.9e-5, 80500], "nice": false},
          "axis": {"values": [0.001, 0.1, 10, 1000], "title": "Observer Time [day]",
                   "labelExpr": "datum.value < 0.01 ? '10⁻³' : datum.value < 1 ? '10⁻¹' : datum.value < 100 ? '10¹' : '10³'"}},
    "y": {"field": "f", "type": "quantitative", "scale": {"type": "log", "domain": [1.98e-12, 10.1], "nice": false},
          "axis": {"values": [1, 0.01, 0.0001, 1e-6, 1e-8, 1e-10], "title": "Fν [mJy]",
                   "labelExpr": "datum.value > 0.1 ? '10⁰' : datum.value > 0.001 ? '10⁻²' : datum.value > 1e-5 ? '10⁻⁴' : datum.value > 1e-7 ? '10⁻⁶' : datum.value > 1e-9 ? '10⁻⁸' : '10⁻¹⁰'"}}
  },
  "layer": [
    {"transform": [{"filter": "datum.c == 'r'"}], "mark": {"type": "line", "color": "#ff0000", "strokeWidth": 1.5, "clip": true}, "encoding": {"detail": {"field": "s", "type": "nominal"}}},
    {"transform": [{"filter": "datum.c == 'g'"}], "mark": {"type": "line", "color": "#008000", "strokeWidth": 3, "strokeDash": [11.1, 4.8], "clip": true}, "encoding": {"detail": {"field": "s", "type": "nominal"}}},
    {"transform": [{"filter": "datum.c == 'b'"}], "mark": {"type": "line", "color": "#0000ff", "strokeWidth": 3, "strokeDash": [19.2, 4.8, 3, 4.8], "clip": true}, "encoding": {"detail": {"field": "s", "type": "nominal"}}},
    {"data": {"values": [{"label": "ν : 10¹⁵ Hz"}]}, "mark": {"type": "text", "align": "right", "baseline": "alphabetic", "fontSize": 21, "font": "DejaVu Serif", "color": "#000"},
     "encoding": {"x": {"datum": 38400}, "y": {"datum": 0.548}, "text": {"field": "label"}}}
  ]
},
{
  "width": 511, "height": 472,
  "data": {"name": "R"},
  "encoding": {
    "x": {"field": "t", "type": "quantitative", "scale": {"type": "log", "domain": [3.9e-5, 80500], "nice": false},
          "axis": {"values": [0.001, 0.1, 10, 1000], "title": "Observer Time [day]",
                   "labelExpr": "datum.value < 0.01 ? '10⁻³' : datum.value < 1 ? '10⁻¹' : datum.value < 100 ? '10¹' : '10³'"}},
    "y": {"field": "f", "type": "quantitative", "scale": {"type": "log", "domain": [1.98e-12, 10.1], "nice": false},
          "axis": {"values": [1, 0.01, 0.0001, 1e-6, 1e-8, 1e-10], "title": null, "labels": false}}
  },
  "layer": [
    {"transform": [{"filter": "datum.c == 'r'"}], "mark": {"type": "line", "color": "#ff0000", "strokeWidth": 1.5, "clip": true}, "encoding": {"detail": {"field": "s", "type": "nominal"}}},
    {"transform": [{"filter": "datum.c == 'g'"}], "mark": {"type": "line", "color": "#008000", "strokeWidth": 3, "strokeDash": [11.1, 4.8], "clip": true}, "encoding": {"detail": {"field": "s", "type": "nominal"}}},
    {"transform": [{"filter": "datum.c == 'b'"}], "mark": {"type": "line", "color": "#0000ff", "strokeWidth": 3, "strokeDash": [19.2, 4.8, 3, 4.8], "clip": true}, "encoding": {"detail": {"field": "s", "type": "nominal"}}},
    {"data": {"values": [{"label": "ν : 10¹⁷ Hz"}]}, "mark": {"type": "text", "align": "right", "baseline": "alphabetic", "fontSize": 21, "font": "DejaVu Serif", "color": "#000"},
     "encoding": {"x": {"datum": 38400}, "y": {"datum": 0.548}, "text": {"field": "label"}}}
  ]
}
]
}
